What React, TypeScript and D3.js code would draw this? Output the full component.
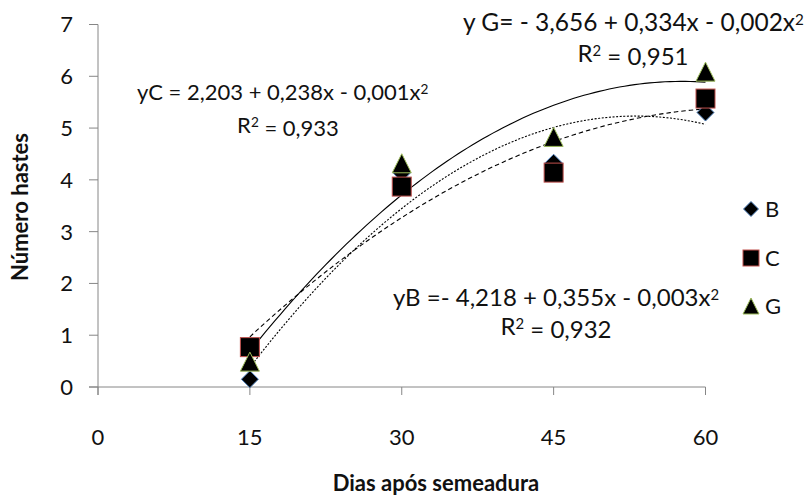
import React from "react";
import * as d3 from "d3";

const days = [15, 30, 45, 60];
const seriesB = [0.15, 4.13, 4.33, 5.3];
const seriesC = [0.77, 3.87, 4.14, 5.57];
const seriesG = [0.49, 4.32, 4.83, 6.09];
const seriesNames = ["B", "C", "G"];
const xTicks = [0, 15, 30, 45, 60];
const yTicks = [0, 1, 2, 3, 4, 5, 6, 7];
const eqC = ["yC = 2,203 + 0,238x - 0,001x²", "R² = 0,933"];
const eqG = ["y G= - 3,656 + 0,334x - 0,002x²", "R² = 0,951"];
const eqB = ["yB =- 4,218 + 0,355x - 0,003x²", "R² = 0,932"];
const xTitle = "Dias após semeadura";
const yTitle = "Número hastes";

function fitQuad(xs: number[], ys: number[]): number[] {
  const S = [
    [0, 0, 0],
    [0, 0, 0],
    [0, 0, 0],
  ];
  const T = [0, 0, 0];
  xs.forEach((x, i) => {
    const p = [1, x, x * x];
    for (let a = 0; a < 3; a++) {
      for (let b = 0; b < 3; b++) S[a][b] += p[a] * p[b];
      T[a] += p[a] * ys[i];
    }
  });
  const M = S.map((r, i) => [...r, T[i]]);
  for (let c = 0; c < 3; c++) {
    let piv = c;
    for (let r = c + 1; r < 3; r++) if (Math.abs(M[r][c]) > Math.abs(M[piv][c])) piv = r;
    [M[c], M[piv]] = [M[piv], M[c]];
    for (let r = 0; r < 3; r++) {
      if (r === c) continue;
      const f = M[r][c] / M[c][c];
      for (let k = c; k < 4; k++) M[r][k] -= f * M[c][k];
    }
  }
  return [M[0][3] / M[0][0], M[1][3] / M[1][1], M[2][3] / M[2][2]];
}

const W = 806;
const H = 495;
const FONT = "Lato, 'Open Sans', sans-serif";
const TEXT = "#111";

function withSup(s: string) {
  const parts = s.split("²");
  const out: React.ReactNode[] = [];
  parts.forEach((p, i) => {
    if (p.length > 0)
      out.push(
        <tspan key={"p" + i} dy={i > 0 ? "0.4em" : undefined}>
          {p}
        </tspan>
      );
    if (i < parts.length - 1)
      out.push(
        <tspan key={"s" + i} dy="-0.4em" fontSize="62%">
          2
        </tspan>
      );
  });
  return out;
}

export default function App() {
  const x = d3.scaleLinear().domain([0, 60]).range([98, 705.5]);
  const y = d3.scaleLinear().domain([0, 7]).range([387, 24.5]);
  const axisColor = "#868686";

  const data = [seriesB, seriesC, seriesG];
  const dash = ["2,1.6", "4.5,3", undefined];
  const samples = d3.range(15, 60.01, 0.5);
  const line = d3
    .line<number[]>()
    .x((d) => x(d[0]))
    .y((d) => y(d[1]));

  const curves = data.map((ys) => {
    const [a, b, c] = fitQuad(days, ys);
    return samples.map((t) => [t, a + b * t + c * t * t]);
  });

  const marker = (name: string, cx: number, cy: number, s: number, key: string) => {
    if (name === "B") {
      const h = s / 2;
      return (
        <path
          key={key}
          d={`M${cx},${cy - h}L${cx + h},${cy}L${cx},${cy + h}L${cx - h},${cy}Z`}
          fill="#000"
          stroke="#4F81BD"
          strokeWidth={1}
        />
      );
    }
    if (name === "C") {
      return (
        <rect
          key={key}
          x={cx - s / 2}
          y={cy - s / 2}
          width={s}
          height={s}
          fill="#000"
          stroke="#C0504D"
          strokeWidth={1}
        />
      );
    }
    const h = s / 2;
    return (
      <path
        key={key}
        d={`M${cx},${cy - h}L${cx + h},${cy + h}L${cx - h},${cy + h}Z`}
        fill="#000"
        stroke="#9BBB59"
        strokeWidth={1}
      />
    );
  };
  const plotSize = [17, 19, 19];
  const legendSize = [15, 16, 16];
  const legendY = [209, 258, 306];

  return (
    <svg
      width={W}
      height={H}
      style={{ position: "absolute", left: 0, top: 0, background: "#fff" }}
      fontFamily={FONT}
    >
      {/* axes */}
      <line x1={x(0)} x2={x(0)} y1={y(7)} y2={y(0) + 8} stroke={axisColor} />
      <line x1={x(0) - 9} x2={x(60)} y1={y(0)} y2={y(0)} stroke={axisColor} />
      {yTicks.map((t) => (
        <g key={"yt" + t}>
          <line x1={x(0) - 9} x2={x(0)} y1={y(t)} y2={y(t)} stroke={axisColor} />
          <text x={73} y={y(t)} dy="0.36em" textAnchor="end" fontSize={22} fill={TEXT}>
            {t}
          </text>
        </g>
      ))}
      {xTicks.map((t) => (
        <g key={"xt" + t}>
          <line x1={x(t)} x2={x(t)} y1={y(0)} y2={y(0) + 8} stroke={axisColor} />
          <text x={x(t)} y={437} dy="0.36em" textAnchor="middle" fontSize={22} fill={TEXT}>
            {t}
          </text>
        </g>
      ))}

      {/* trendlines */}
      {curves.map((c, i) => (
        <path
          key={"c" + i}
          d={line(c) || ""}
          fill="none"
          stroke="#000"
          strokeWidth={1.1}
          strokeDasharray={dash[i]}
        />
      ))}

      {/* markers */}
      {data.map((ys, i) =>
        ys.map((v, j) => marker(seriesNames[i], x(days[j]), y(v), plotSize[i], `m${i}-${j}`))
      )}

      {/* legend */}
      {seriesNames.map((n, i) => (
        <g key={"lg" + n}>
          {marker(n, 751, legendY[i], legendSize[i], "lm" + n)}
          <text x={765} y={legendY[i]} dy="0.36em" fontSize={22} fill={TEXT}>
            {n}
          </text>
        </g>
      ))}

      {/* equations */}
      <text x={137} y={92} dy="0.36em" fontSize={22} fill={TEXT}>{withSup(eqC[0])}</text>
      <text x={288} y={125} dy="0.36em" fontSize={22} fill={TEXT} textAnchor="middle">{withSup(eqC[1])}</text>
      <text x={463} y={22} dy="0.36em" fontSize={24.5} fill={TEXT}>{withSup(eqG[0])}</text>
      <text x={633} y={53} dy="0.36em" fontSize={24} fill={TEXT} textAnchor="middle">{withSup(eqG[1])}</text>
      <text x={393} y={297} dy="0.36em" fontSize={24} fill={TEXT}>{withSup(eqB[0])}</text>
      <text x={556} y={326} dy="0.36em" fontSize={24} fill={TEXT} textAnchor="middle">{withSup(eqB[1])}</text>

      {/* axis titles */}
      <text x={436} y={483} dy="0.36em" textAnchor="middle" fontSize={22} fontWeight="bold" fill={TEXT}>
        {xTitle}
      </text>
      <text
        transform={`translate(20,207) rotate(-90)`}
        dy="0.36em"
        textAnchor="middle"
        fontSize={22}
        fontWeight="bold"
        fill={TEXT}
      >
        {yTitle}
      </text>
    </svg>
  );
}
